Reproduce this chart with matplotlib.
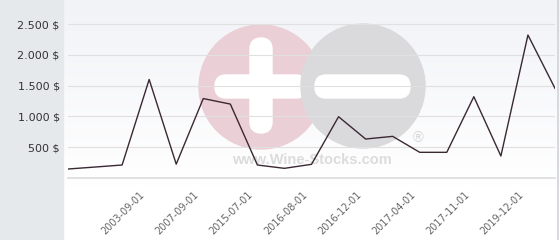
import matplotlib
matplotlib.use('Agg')
import matplotlib.pyplot as plt
import matplotlib.transforms as mtransforms
import numpy as np
from matplotlib.patches import Circle, FancyBboxPatch, Rectangle

# prices per release, every other date is labelled on the axis
prices = [146, 178, 211, 1600, 225, 1290, 1200, 211, 157, 222,
          995, 633, 676, 417, 417, 1320, 357, 2321, 1456]
tick_idx = [3, 5, 7, 9, 11, 13, 15, 17]
tick_labels = ['2003-09-01', '2007-09-01', '2015-07-01', '2016-08-01',
               '2016-12-01', '2017-04-01', '2017-11-01', '2019-12-01']
y_ticks = [500, 1000, 1500, 2000, 2500]
y_labels = ['500 $', '1.000 $', '1.500 $', '2.000 $', '2.500 $']

W, H = 560, 240
fig = plt.figure(figsize=(W / 100, H / 100), dpi=100)

# background: gradient, left panel, watermark (pixel coords)
bg = fig.add_axes([0, 0, 1, 1])
bg.set_xlim(0, W)
bg.set_ylim(H, 0)
bg.axis('off')
grad = np.linspace(0, 1, 100).reshape(-1, 1)
top = np.array([0.949, 0.953, 0.969])
bot = np.array([1.0, 1.0, 1.0])
img = top + (bot - top) * np.clip(grad * 1.3, 0, 1)[:, :, None] * np.ones(3)
bg.imshow(img, extent=[63, W, H, 0], aspect='auto', zorder=0)
bg.add_patch(Rectangle((0, 0), 63, H, color='#e6e9ec', zorder=1))
bg.plot([558, 558], [0, H], color='#cfd3d8', lw=1.2, zorder=1)

pink = '#ebcfd6'
grey = '#dadadc'
bg.add_patch(Circle((261, 87), 62, color=pink, zorder=2))
bg.add_patch(FancyBboxPatch((250, 38), 22, 95, boxstyle='round,pad=0,rounding_size=11',
                            color='white', zorder=3))
bg.add_patch(FancyBboxPatch((215, 75), 92, 23, boxstyle='round,pad=0,rounding_size=11',
                            color='white', zorder=3))
bg.add_patch(Circle((363, 86), 62, color=grey, zorder=4))
bg.add_patch(FancyBboxPatch((315, 75), 95, 23, boxstyle='round,pad=0,rounding_size=11',
                            color='white', zorder=5))
bg.text(312, 160, 'www.Wine-Stocks.com', ha='center', va='center', fontsize=10.5,
        fontweight='bold', family='Liberation Sans', color='#dcdcdc', zorder=5)
bg.text(418, 138, '®', ha='center', va='center', fontsize=10.5,
        family='Liberation Sans', color='#d6d6d6', zorder=5)

# main chart
ax = fig.add_axes([68 / W, (H - 178) / H, (555 - 68) / W, 178 / H])
ax.patch.set_alpha(0)
x = np.arange(len(prices))
ax.plot(x, prices, color='#3a2833', lw=1.0, zorder=3)
ax.set_xlim(0, len(prices) - 1)
ax.set_ylim(0, 2890)
ax.set_yticks(y_ticks)
ax.set_yticklabels(y_labels, fontsize=8, color='#333333')
ax.yaxis.grid(True, color='#e0e0e0', lw=0.8)
ax.axhline(0, color='#dcdcdc', lw=1.2, clip_on=False)
ax.set_xticks(tick_idx)
ax.set_xticklabels(tick_labels, rotation=45, ha='right', va='center',
                   rotation_mode='anchor', fontsize=7, color='#666666')
ax.tick_params(axis='x', length=0, pad=11)
ax.tick_params(axis='y', length=0, pad=6)
shift = mtransforms.ScaledTranslation(-6 / 100, 0, fig.dpi_scale_trans)
for lbl in ax.get_xticklabels():
    lbl.set_transform(lbl.get_transform() + shift)
for s in ax.spines.values():
    s.set_visible(False)

plt.savefig('out.png', dpi=100)
